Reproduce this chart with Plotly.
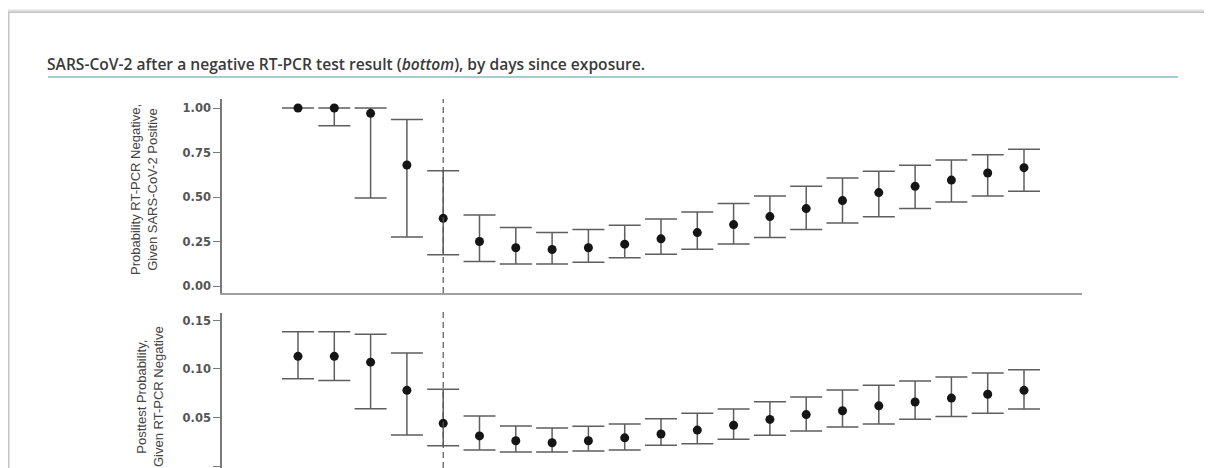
import plotly.graph_objects as go

# page body has an 8px default margin, so the figure is drawn 8px in from the window edge
OX, OY = 8, 8
FW, FH = 1204, 460

days = list(range(1, 22))

top_est = [1.00, 1.00, 0.97, 0.68, 0.38, 0.25, 0.215, 0.205, 0.215, 0.235, 0.265,
           0.30, 0.345, 0.39, 0.435, 0.48, 0.525, 0.56, 0.595, 0.635, 0.665]
top_lo = [1.00, 0.90, 0.495, 0.275, 0.175, 0.137, 0.124, 0.124, 0.133, 0.159, 0.178,
          0.206, 0.236, 0.272, 0.318, 0.354, 0.389, 0.436, 0.472, 0.506, 0.532]
top_hi = [1.00, 1.00, 1.00, 0.936, 0.648, 0.399, 0.328, 0.301, 0.318, 0.341, 0.376,
          0.416, 0.463, 0.506, 0.560, 0.607, 0.644, 0.678, 0.708, 0.738, 0.768]

bot_est = [0.113, 0.113, 0.107, 0.078, 0.044, 0.031, 0.026, 0.024, 0.026, 0.029, 0.033,
           0.037, 0.042, 0.048, 0.053, 0.057, 0.062, 0.066, 0.070, 0.074, 0.078]
bot_lo = [0.090, 0.088, 0.059, 0.032, 0.021, 0.0165, 0.0144, 0.0144, 0.0155, 0.0165, 0.0213,
          0.023, 0.0275, 0.0316, 0.0361, 0.0402, 0.0433, 0.0481, 0.0509, 0.0543, 0.0588]
bot_hi = [0.1385, 0.1385, 0.1357, 0.1165, 0.079, 0.0515, 0.0412, 0.0392, 0.0409, 0.0433, 0.0488,
          0.0543, 0.0588, 0.0663, 0.0711, 0.0784, 0.0832, 0.0876, 0.0918, 0.0959, 0.0993]

top_ticks = [0.0, 0.25, 0.50, 0.75, 1.00]
bot_ticks = [0.0, 0.05, 0.10, 0.15]
onset_day = 5

caption = "SARS-CoV-2 after a negative RT-PCR test result (<i>bottom</i>), by days since exposure."
top_title = "Probability RT-PCR Negative,<br>Given SARS-CoV-2 Positive"
bot_title = "Posttest Probability,<br>Given RT-PCR Negative"


def px_x(p):
    return (p - OX) / FW


def px_y(p):
    return 1 - (p - OY) / FH


fig = go.Figure()

err_style = dict(type="data", symmetric=False, color="#5e5e5e", thickness=1.5, width=16)
mk = dict(color="#151515", size=9, symbol="circle")

fig.add_trace(go.Scatter(
    x=days, y=top_est, mode="markers", marker=mk, xaxis="x", yaxis="y",
    error_y=dict(array=[h - e for h, e in zip(top_hi, top_est)],
                 arrayminus=[e - l for e, l in zip(top_est, top_lo)], **err_style),
    showlegend=False, hoverinfo="skip"))

fig.add_trace(go.Scatter(
    x=days, y=bot_est, mode="markers", marker=mk, xaxis="x2", yaxis="y2",
    error_y=dict(array=[h - e for h, e in zip(bot_hi, bot_est)],
                 arrayminus=[e - l for e, l in zip(bot_est, bot_lo)], **err_style),
    showlegend=False, hoverinfo="skip"))

xdom = [px_x(222), px_x(1082)]
xrange = [1 + (222 - 298) / 36.3, 1 + (1082 - 298) / 36.3]
tickfont = dict(family="DejaVu Sans", size=11.5, color="#555555", weight="bold")

common_y = dict(showline=True, linecolor="#7a7a7a", linewidth=1.5, ticks="outside",
                ticklen=7, tickcolor="#7a7a7a", tickwidth=1.2, showgrid=False,
                zeroline=False, tickfont=tickfont, tickformat=".2f", fixedrange=True)

fig.update_layout(
    width=FW, height=FH,
    margin=dict(l=0, r=0, t=0, b=0),
    paper_bgcolor="white", plot_bgcolor="white",
    xaxis=dict(domain=xdom, range=xrange, anchor="y", showline=True, linecolor="#a0a0a0",
               linewidth=2, showticklabels=False, ticks="", showgrid=False, zeroline=False),
    yaxis=dict(domain=[px_y(293), px_y(99)], range=[-0.0393, 1.0506], anchor="x",
               tickvals=top_ticks, **common_y),
    xaxis2=dict(domain=xdom, range=xrange, anchor="y2", showline=False,
                showticklabels=False, ticks="", showgrid=False, zeroline=False),
    yaxis2=dict(domain=[0, px_y(313)], range=[-0.00206, 0.1577], anchor="x2",
                tickvals=bot_ticks, **common_y),
)

shapes = [
    # card frame
    dict(type="rect", xref="paper", yref="paper", x0=px_x(8.5), x1=px_x(1210),
         y0=-0.05, y1=px_y(12), line=dict(color="#c4c4c4", width=2), layer="below"),
    dict(type="line", xref="paper", yref="paper", x0=px_x(8), x1=px_x(1210),
         y0=px_y(10.5), y1=px_y(10.5), line=dict(color="#e0e0e0", width=2), layer="below"),
    # teal rule
    dict(type="line", xref="paper", yref="paper", x0=px_x(48), x1=px_x(1178),
         y0=px_y(77), y1=px_y(77), line=dict(color="#a6cdce", width=2)),
    # symptom onset dashed lines
    dict(type="line", xref="x", yref="y domain", x0=onset_day, x1=onset_day, y0=0, y1=1,
         line=dict(color="#555555", width=1.2, dash="6px,4px")),
    dict(type="line", xref="x2", yref="y2 domain", x0=onset_day, x1=onset_day, y0=0, y1=1.03,
         line=dict(color="#555555", width=1.2, dash="6px,4px")),
]
fig.update_layout(shapes=shapes)

fig.add_annotation(xref="paper", yref="paper", x=px_x(45), y=px_y(64),
                   xanchor="left", yanchor="middle", text=caption, showarrow=False,
                   font=dict(family="Open Sans", size=15.6, color="#3a3a3a", weight=600))
fig.add_annotation(xref="paper", yref="paper", x=px_x(144), y=px_y(190),
                   xanchor="center", yanchor="middle", text=top_title, showarrow=False,
                   textangle=-90,
                   font=dict(family="Liberation Sans Narrow, Arial Narrow, sans-serif",
                             size=13, color="#444444"))
fig.add_annotation(xref="paper", yref="paper", x=px_x(150), y=px_y(397),
                   xanchor="center", yanchor="middle", text=bot_title, showarrow=False,
                   textangle=-90,
                   font=dict(family="Liberation Sans Narrow, Arial Narrow, sans-serif",
                             size=13, color="#444444"))

fig.write_html("out.html")
